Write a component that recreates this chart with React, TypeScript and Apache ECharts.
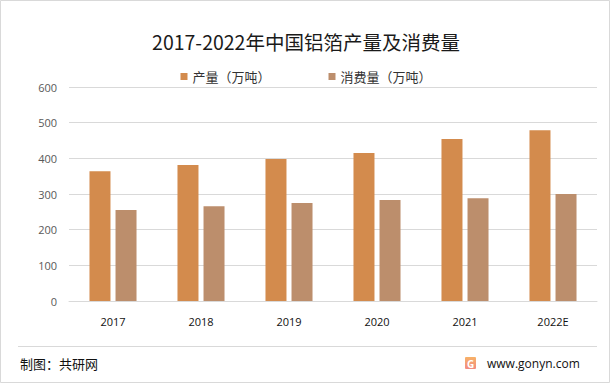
import React, { useEffect, useRef } from "react";
import * as echarts from "echarts";

const categories = ["2017", "2018", "2019", "2020", "2021", "2022E"];
const production = [364, 381, 398, 415, 454, 479];
const consumption = [255, 266, 275, 283, 288, 300];
const seriesNames = ["产量（万吨）", "消费量（万吨）"];
const titleText = "2017-2022年中国铝箔产量及消费量";
const sourceText = "制图：共研网";
const siteText = "www.gonyn.com";

export default function App() {
  const ref = useRef<HTMLDivElement>(null);
  useEffect(() => {
    document.body.style.margin = "0";
    const chart = echarts.init(ref.current!, null, { renderer: "svg" });
    const font = "'Noto Sans CJK SC', 'Noto Sans', sans-serif";
    chart.setOption({
      animation: false,
      backgroundColor: "#ffffff",
      textStyle: { fontFamily: font },
      title: {
        text: titleText,
        left: "center",
        top: 27,
        textStyle: { fontSize: 19.5, fontWeight: "normal", color: "#1a1a1a", fontFamily: font },
      },
      legend: {
        top: 65,
        left: "center",
        itemWidth: 7,
        itemHeight: 7,
        itemGap: 58,
        icon: "rect",
        textStyle: { fontSize: 13, color: "#333", fontFamily: font },
        data: seriesNames,
      },
      grid: { left: 69, right: 15, top: 87, bottom: 84 },
      xAxis: {
        type: "category",
        data: categories,
        axisLine: { lineStyle: { color: "#d9d9d9", width: 1 } },
        axisTick: { show: false },
        axisLabel: { color: "#111", fontSize: 11, margin: 15, fontFamily: "'Open Sans', sans-serif" },
      },
      yAxis: {
        type: "value",
        min: 0,
        max: 600,
        interval: 100,
        axisLine: { show: false },
        axisTick: { show: false },
        splitLine: { lineStyle: { color: "#d9d9d9", width: 1 } },
        axisLabel: { color: "#595959", fontSize: 11, margin: 12, fontFamily: "'Open Sans', sans-serif" },
      },
      series: [
        {
          name: seriesNames[0],
          type: "bar",
          data: production,
          barWidth: 21,
          barGap: "24%",
          itemStyle: { color: "#D38B4D" },
        },
        {
          name: seriesNames[1],
          type: "bar",
          data: consumption,
          barWidth: 21,
          itemStyle: { color: "#BC8E6C" },
        },
      ],
      graphic: [
        {
          type: "rect",
          shape: { x: 0.5, y: 0.5, width: 609, height: 382 },
          style: { fill: "none", stroke: "#d9d9d9", lineWidth: 1 },
          silent: true,
        },
        {
          type: "line",
          shape: { x1: 18, y1: 346.5, x2: 597, y2: 346.5 },
          style: { stroke: "#d9d9d9", lineWidth: 1 },
          silent: true,
        },
        {
          type: "text",
          x: 20,
          y: 363,
          style: { text: sourceText, fontSize: 13, fill: "#111", fontFamily: font, verticalAlign: "middle" },
        },
        {
          type: "rect",
          shape: { x: 465, y: 357, width: 11, height: 12, r: 1 },
          style: {
            fill: new echarts.graphic.LinearGradient(0, 0, 0, 1, [
              { offset: 0, color: "#F7B267" },
              { offset: 1, color: "#F28B82" },
            ]),
          },
        },
        {
          type: "text",
          x: 470.5,
          y: 363.5,
          style: {
            text: "G",
            fontSize: 10,
            fontWeight: "bold",
            fill: "#ffffff",
            align: "center",
            verticalAlign: "middle",
            fontFamily: "'Open Sans', sans-serif",
          },
        },
        {
          type: "text",
          x: 487,
          y: 363,
          style: { text: siteText, fontSize: 12, fill: "#111", fontFamily: "'Open Sans', sans-serif", verticalAlign: "middle" },
        },
      ],
    });
    return () => chart.dispose();
  }, []);
  return <div ref={ref} style={{ position: "absolute", left: 0, top: 0, width: 612, height: 385 }} />;
}
